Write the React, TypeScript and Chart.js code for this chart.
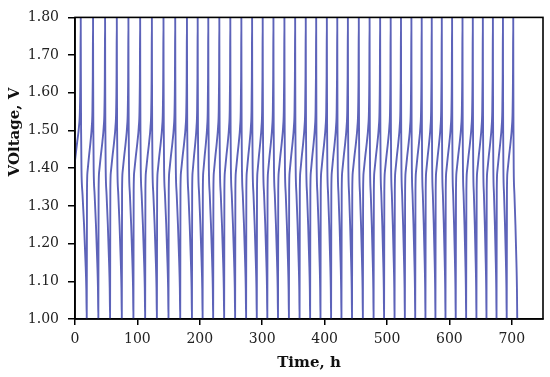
import React, { useEffect, useRef } from "react";
import { Chart, registerables } from "chart.js";

Chart.register(...registerables);

// Time (h) at which each cycle's charge reaches 1.80 V
const cycleTopTimes = [
  9.2, 28.9, 48.2, 67.0, 85.6, 104.4, 123.2, 141.8, 160.6, 179.4,
  196.6, 213.6, 231.3, 248.9, 266.6, 283.8, 300.8, 318.0, 335.6, 352.8,
  369.8, 386.5, 403.6, 420.3, 437.3, 454.8, 472.1, 489.0, 505.9, 522.4,
  539.1, 555.6, 571.7, 587.8, 604.3, 621.0, 637.5, 653.6, 669.7, 685.8,
  702.3,
];
// Time (h) at which each cycle's discharge reaches 1.00 V
const cycleBottomTimes = [
  18.8, 37.4, 56.2, 75.0, 93.6, 112.4, 131.2, 149.8, 168.6, 187.4,
  204.5, 221.4, 239.0, 256.6, 274.2, 291.3, 308.2, 325.3, 342.8, 359.9,
  376.8, 393.4, 410.4, 427.0, 443.9, 461.3, 478.5, 495.3, 512.1, 528.6,
  545.2, 561.6, 577.6, 593.7, 610.1, 626.8, 643.3, 659.4, 675.5, 691.8,
  708.7,
];
const startTime = 0;
const startVoltage = 1.42;

// Charge curve: fraction of charge duration vs voltage
const chargeShapeFrac = [0, 0.04, 0.12, 0.35, 0.6, 0.8, 0.9, 0.96, 1];
const chargeShapeV = [1.0, 1.34, 1.39, 1.43, 1.47, 1.51, 1.55, 1.64, 1.8];
// Discharge curve: fraction of discharge duration vs voltage
const dischargeShapeFrac = [0, 0.02, 0.06, 0.12, 0.3, 0.55, 0.8, 0.93, 1];
const dischargeShapeV = [1.8, 1.66, 1.5, 1.4, 1.33, 1.25, 1.15, 1.08, 1.0];

const xTicks = [0, 100, 200, 300, 400, 500, 600, 700];
const yTicks = [1.0, 1.1, 1.2, 1.3, 1.4, 1.5, 1.6, 1.7, 1.8];

function buildPoints() {
  const pts: { x: number; y: number }[] = [];
  // first partial charge
  const f0Index = chargeShapeV.findIndex((v) => v >= startVoltage);
  const f0 = chargeShapeFrac[f0Index];
  pts.push({ x: startTime, y: startVoltage });
  for (let j = f0Index + 1; j < chargeShapeFrac.length; j++) {
    const f = (chargeShapeFrac[j] - f0) / (1 - f0);
    pts.push({ x: startTime + f * (cycleTopTimes[0] - startTime), y: chargeShapeV[j] });
  }
  for (let i = 0; i < cycleTopTimes.length; i++) {
    const top = cycleTopTimes[i];
    const bot = cycleBottomTimes[i];
    for (let j = 1; j < dischargeShapeFrac.length; j++) {
      pts.push({ x: top + dischargeShapeFrac[j] * (bot - top), y: dischargeShapeV[j] });
    }
    if (i + 1 < cycleTopTimes.length) {
      const next = cycleTopTimes[i + 1];
      for (let j = 1; j < chargeShapeFrac.length; j++) {
        pts.push({ x: bot + chargeShapeFrac[j] * (next - bot), y: chargeShapeV[j] });
      }
    }
  }
  return pts;
}

const boxPlugin = {
  id: "boxAndTitle",
  afterDraw(chart: any) {
    const { ctx, chartArea } = chart;
    ctx.save();
    ctx.strokeStyle = "#000";
    ctx.lineWidth = 1.6;
    ctx.strokeRect(chartArea.left, chartArea.top, chartArea.right - chartArea.left, chartArea.bottom - chartArea.top);
    ctx.translate(15, 132);
    ctx.rotate(-Math.PI / 2);
    ctx.fillStyle = "#111";
    ctx.font = "bold 15px 'DejaVu Serif'";
    ctx.textAlign = "center";
    ctx.textBaseline = "middle";
    ctx.fillText("VOltage, V", 0, 0);
    ctx.restore();
  },
};

export default function App() {
  const ref = useRef<HTMLCanvasElement>(null);
  useEffect(() => {
    if (!ref.current) return;
    const chart = new Chart(ref.current, {
      type: "line",
      data: {
        datasets: [
          {
            data: buildPoints(),
            borderColor: "#5d63b9",
            borderWidth: 1.9,
            pointRadius: 0,
            cubicInterpolationMode: "monotone",
            fill: false,
          },
        ],
      },
      options: {
        animation: false,
        responsive: false,
        parsing: false,
        layout: { padding: { top: 12, right: 7, left: 0, bottom: 0 } },
        plugins: { legend: { display: false }, tooltip: { enabled: false } },
        scales: {
          x: {
            type: "linear",
            min: 0,
            max: 750,
            afterFit: (s: any) => {
              s.height = 58;
            },
            afterBuildTicks: (s: any) => {
              s.ticks = xTicks.map((v) => ({ value: v }));
            },
            ticks: {
              font: { family: "'DejaVu Serif'", size: 14 },
              color: "#222",
              padding: 6,
              maxRotation: 0,
            },
            grid: { display: true, drawOnChartArea: false, drawTicks: true, tickLength: 6, color: "#000", lineWidth: 1.5 },
            border: { display: true, color: "#000", width: 1.6 },
            title: {
              display: true,
              text: "Time, h",
              font: { family: "'DejaVu Serif'", size: 15, weight: "bold" },
              color: "#111",
              padding: { top: 0, bottom: 5 },
            },
          },
          y: {
            type: "linear",
            min: 1.0,
            max: 1.8,
            afterFit: (s: any) => {
              s.width = 75;
            },
            afterBuildTicks: (s: any) => {
              s.ticks = yTicks.map((v) => ({ value: v }));
            },
            ticks: {
              font: { family: "'DejaVu Serif'", size: 14 },
              color: "#222",
              padding: 9,
              callback: (v: any) => Number(v).toFixed(2),
            },
            grid: { display: true, drawOnChartArea: false, drawTicks: true, tickLength: 7, color: "#000", lineWidth: 1.5 },
            border: { display: true, color: "#000", width: 1.6 },
          },
        },
      },
      plugins: [boxPlugin],
    });
    return () => chart.destroy();
  }, []);
  return (
    <div style={{ position: "fixed", left: 0, top: 0, width: 550, height: 377, background: "#fff" }}>
      <canvas ref={ref} width={550} height={377} />
    </div>
  );
}
